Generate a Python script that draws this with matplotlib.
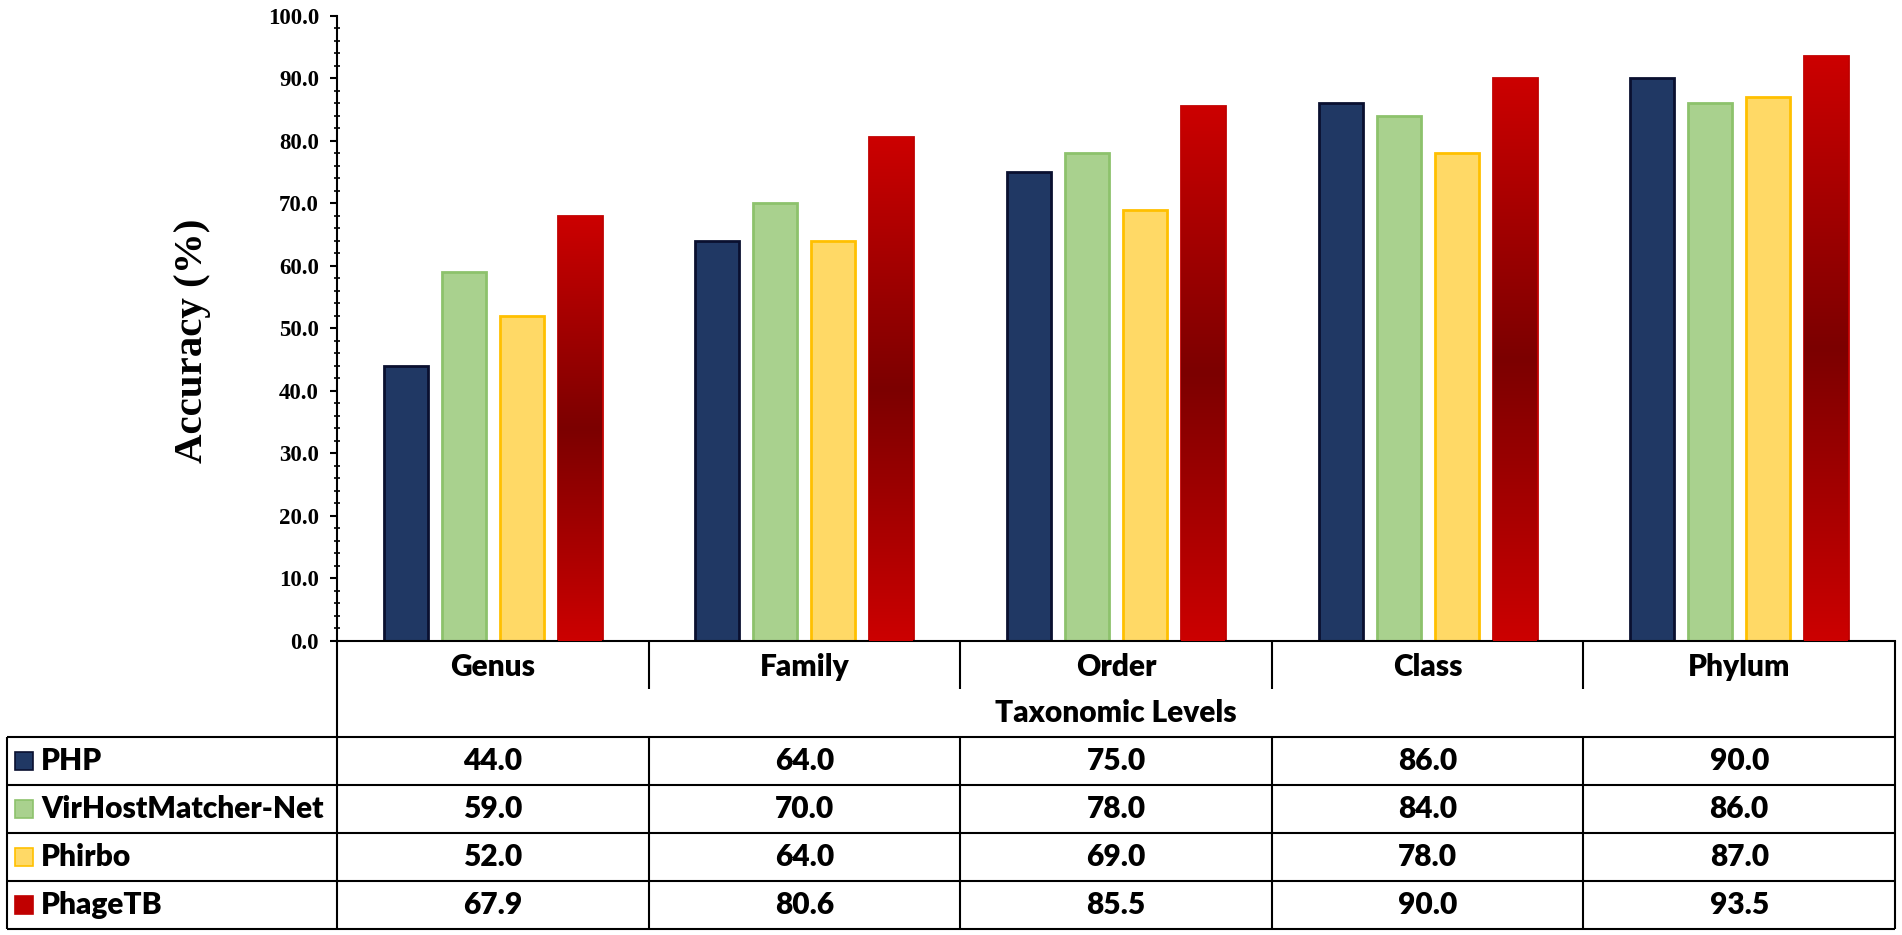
import numpy as np
import matplotlib
matplotlib.use("Agg")
import matplotlib.pyplot as plt
from matplotlib.colors import LinearSegmentedColormap
from matplotlib.patches import Rectangle
from matplotlib.ticker import MultipleLocator, AutoMinorLocator

# data
levels = ["Genus", "Family", "Order", "Class", "Phylum"]
methods = ["PHP", "VirHostMatcher-Net", "Phirbo", "PhageTB"]
php = [44.0, 64.0, 75.0, 86.0, 90.0]
vhm = [59.0, 70.0, 78.0, 84.0, 86.0]
phirbo = [52.0, 64.0, 69.0, 78.0, 87.0]
phagetb = [67.9, 80.6, 85.5, 90.0, 93.5]
series = [php, vhm, phirbo, phagetb]

fills = ["#203864", "#a9d18e", "#ffd966", "#c00000"]
edges = ["#0a1030", "#8dc26c", "#ffc000", "#c00000"]
red_cmap = LinearSegmentedColormap.from_list("red", ["#cc0000", "#7c0000", "#cc0000"])

W, H = 1902, 935
fig = plt.figure(figsize=(W / 100, H / 100), dpi=100)

# pixel layout
ax_l, ax_r, ax_t, ax_b = 337, 1895, 15.7, 641
ax = fig.add_axes([ax_l / W, 1 - ax_b / H, (ax_r - ax_l) / W, (ax_b - ax_t) / H])

x = np.arange(len(levels))
bw, pitch = 0.141, 0.186
offsets = (np.arange(4) - 1.5) * pitch

for k, vals in enumerate(series):
    bars = ax.bar(x + offsets[k], vals, bw, color=fills[k], edgecolor=edges[k],
                  linewidth=2.0, zorder=2)
    if k == 3:
        for b in bars:
            grad = np.linspace(0, 1, 256).reshape(-1, 1)
            im = ax.imshow(grad, cmap=red_cmap, aspect="auto", zorder=3,
                           extent=(b.get_x(), b.get_x() + b.get_width(), 0, b.get_height()),
                           origin="upper")
            im.set_clip_path(b)

ax.set_xlim(-0.5, 4.5)
ax.set_ylim(0, 100)
ax.yaxis.set_major_locator(MultipleLocator(10))
ax.yaxis.set_minor_locator(AutoMinorLocator(5))
ax.yaxis.set_major_formatter(matplotlib.ticker.FormatStrFormatter("%.1f"))
ax.tick_params(axis="y", which="major", direction="out", length=5, width=1.5, pad=8)
ax.tick_params(axis="y", which="minor", direction="inout", length=4, width=1.2)
ax.tick_params(axis="x", bottom=False, labelbottom=False)
for lab in ax.get_yticklabels():
    lab.set_fontfamily("Liberation Serif")
    lab.set_fontweight("bold")
    lab.set_fontsize(16.5)
for s in ["top", "right"]:
    ax.spines[s].set_visible(False)
ax.spines["left"].set_linewidth(1.5)
ax.spines["bottom"].set_linewidth(1.5)
ax.set_ylabel("Accuracy (%)", fontfamily="Liberation Serif", fontweight="bold", fontsize=29.5)
ax.yaxis.set_label_coords(-0.081, 0.48)

# table under the axis, same x scale; rows are 48 px tall
tab = fig.add_axes([ax_l / W, 0, (ax_r - ax_l) / W, (H - ax_b) / H])
tab.set_xlim(-0.5, 4.5)
tab.set_ylim(-0.125, 6)
tab.axis("off")

lw = 1.5
unit = (ax_r - ax_l) / 5
xl = -0.5 - (ax_l - 7) / unit
line = dict(color="black", linewidth=lw, clip_on=False, solid_capstyle="butt")
for i in range(1, 5):
    tab.plot([i - 0.5, i - 0.5], [5, 6], **line)
    tab.plot([i - 0.5, i - 0.5], [0, 4], **line)
tab.plot([-0.5, -0.5], [0, 6], **line)
tab.plot([4.5, 4.5], [0, 6], **line)
tab.plot([xl, xl], [0, 4], **line)
for yy in range(0, 5):
    tab.plot([xl, 4.5], [yy, yy], **line)

tfont = dict(fontfamily="Lato", fontweight="heavy", fontsize=21.5, clip_on=False)
for i, name in enumerate(levels):
    tab.text(i, 5.45, name, ha="center", va="center", **tfont)
tab.text(2, 4.5, "Taxonomic Levels", ha="center", va="center", **tfont)

for k, (name, vals) in enumerate(zip(methods, series)):
    yc = 3.5 - k
    for i, v in enumerate(vals):
        tab.text(i, yc, f"{v:.1f}", ha="center", va="center", **tfont)
    sq = Rectangle((xl + 8 / unit, yc - 9 / 48), 18 / unit, 18 / 48, facecolor=fills[k],
                   edgecolor=edges[k], linewidth=1.2, clip_on=False)
    tab.add_patch(sq)
    tab.text(xl + 34 / unit, yc, name, ha="left", va="center", **tfont)

fig.savefig("out.png", dpi=100)
